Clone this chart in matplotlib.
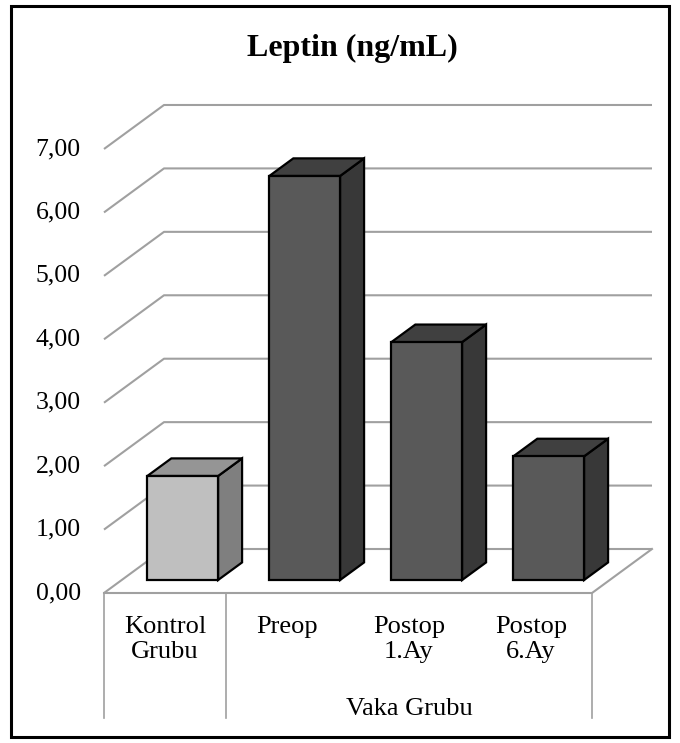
import matplotlib
matplotlib.use("Agg")
import matplotlib.pyplot as plt
from matplotlib.patches import Polygon, Rectangle

# data
categories = ["Kontrol\nGrubu", "Preop", "Postop\n1.Ay", "Postop\n6.Ay"]
values = [1.64, 6.37, 3.75, 1.95]
groups = ["", "Vaka Grubu"]
group_spans = [(0, 1), (1, 4)]
y_ticks = [0, 1, 2, 3, 4, 5, 6, 7]
tick_labels = ["0,00", "1,00", "2,00", "3,00", "4,00", "5,00", "6,00", "7,00"]
title = "Leptin (ng/mL)"

plt.rcParams["font.family"] = ["Liberation Serif", "DejaVu Serif"]

W, H = 680, 743
fig = plt.figure(figsize=(W / 100, H / 100), dpi=100)
ax = fig.add_axes([0, 0, 1, 1])

# pixel geometry of the plot box (1 category = 122 px, 1 unit = 63.4 px)
px_x, px_y = 122.0, 63.43
x0_px, y0_px = 104, 593
ax.set_xlim(-x0_px / px_x, (W - x0_px) / px_x)
ax.set_ylim((y0_px - H) / px_y, y0_px / px_y)
ax.axis("off")

n = len(categories)
DX, DY = 60 / px_x, 44 / px_y          # floor depth offset
grid_c = "#a0a0a0"

# walls / gridlines
for v in y_ticks:
    ax.plot([0, DX, n + DX], [v, v + DY, v + DY], color=grid_c, lw=1.5,
            solid_capstyle="butt", zorder=1)
ax.plot([0, n, n + DX], [0, 0, DY], color=grid_c, lw=1.5, zorder=1)

# tick labels
for v, lab in zip(y_ticks, tick_labels):
    ax.text(-0.19, v, lab, ha="right", va="center", fontsize=18.5)

# bars
f_front, f_depth, half_w = 0.295, 0.40, 0.29
bar_colors = [("#bfbfbf", "#7f7f7f", "#959595")] + [("#595959", "#383838", "#404040")] * 3
for i, (v, (cf, cs, ct)) in enumerate(zip(values, bar_colors)):
    xl = i + 0.5 + f_front * DX - half_w
    xr = xl + 2 * half_w
    yb = f_front * DY
    yt = yb + v
    ddx, ddy = f_depth * DX, f_depth * DY
    kw = dict(ec="black", lw=1.6, joinstyle="miter", zorder=3)
    ax.add_patch(Polygon([(xr, yb), (xr + ddx, yb + ddy), (xr + ddx, yt + ddy), (xr, yt)], fc=cs, **kw))
    ax.add_patch(Polygon([(xl, yt), (xr, yt), (xr + ddx, yt + ddy), (xl + ddx, yt + ddy)], fc=ct, **kw))
    ax.add_patch(Polygon([(xl, yb), (xr, yb), (xr, yt), (xl, yt)], fc=cf, **kw))

# category table below the floor
y_bot = (y0_px - 718) / px_y
for x in [0] + [e for _, e in group_spans]:
    ax.plot([x, x], [0, y_bot], color=grid_c, lw=1.2, zorder=1)
for i, lab in enumerate(categories):
    ax.text(i + 0.5, -0.37, lab, ha="center", va="top", fontsize=19, linespacing=1.15)
for (s, e), g in zip(group_spans, groups):
    if g:
        ax.text((s + e) / 2, -1.65, g, ha="center", va="top", fontsize=19)

fig.text(352 / W, 1 - 48 / H, title, ha="center", va="center",
         fontsize=23, fontweight="bold")

fig.patches.append(Rectangle((11 / W, 1 - 737 / H), 658 / W, 731 / H, transform=fig.transFigure,
                             fill=False, ec="black", lw=2.2))

fig.savefig("out.png", dpi=100)
